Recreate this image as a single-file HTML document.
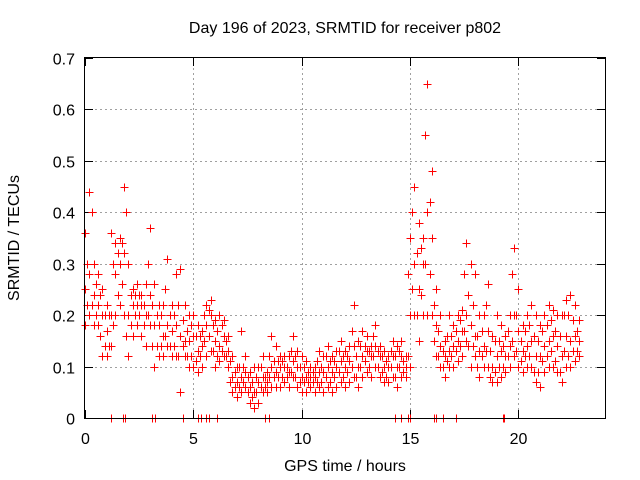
<!DOCTYPE html>
<html><head><meta charset="utf-8"><style>
html,body{margin:0;padding:0;background:#fff}
svg{display:block;font-family:"Liberation Sans",sans-serif}
</style></head><body>
<svg id="chart" width="640" height="480" viewBox="0 0 640 480" xmlns="http://www.w3.org/2000/svg">
<rect width="640" height="480" fill="#fff"/>
<text x="345" y="33" font-size="16" text-anchor="middle">Day 196 of 2023, SRMTID for receiver p802</text>
<text x="345" y="471" font-size="16" text-anchor="middle">GPS time / hours</text>
<text x="19" y="238" font-size="16" text-anchor="middle" transform="rotate(-90 19 238)">SRMTID / TECUs</text>
<g id="grid"></g><g id="ticks"></g><g id="marks"></g>
<rect x="84.5" y="57.5" width="521" height="361" fill="none" stroke="#000"/>
</svg>
<script>
const xTicks=[0,5,10,15,20];
const yTicks=[0,0.1,0.2,0.3,0.4,0.5,0.6,0.7];
const yTickLabels=["0","0.1","0.2","0.3","0.4","0.5","0.6","0.7"];
const times=[0,0.2,0.4,0.6,0.8,1,1.2,1.4,1.6,1.8,2,2.2,2.4,2.6,2.8,3,3.2,3.4,3.6,3.8,4,4.2,4.4,4.6,4.8,5,5.2,5.4,5.6,5.8,6,6.2,6.4,6.6,6.8,7,7.2,7.4,7.6,7.8,8,8.2,8.4,8.6,8.8,9,9.2,9.4,9.6,9.8,10,10.2,10.4,10.6,10.8,11,11.2,11.4,11.6,11.8,12,12.2,12.4,12.6,12.8,13,13.2,13.4,13.6,13.8,14,14.2,14.4,14.6,14.8,15,15.2,15.4,15.6,15.8,16,16.2,16.4,16.6,16.8,17,17.2,17.4,17.6,17.8,18,18.2,18.4,18.6,18.8,19,19.2,19.4,19.6,19.8,20,20.2,20.4,20.6,20.8,21,21.2,21.4,21.6,21.8,22,22.2,22.4,22.6,22.8];
const lowVals=[0.18,0.2,0.18,0.18,0.12,0.12,0.14,0.2,0.22,0.2,0.12,0.16,0.18,0.16,0.14,0.18,0.1,0.12,0.12,0.14,0.12,0.12,0.05,0.12,0.1,0.1,0.09,0.1,0.12,0.13,0.1,0.11,0.12,0.1,0.05,0.04,0.05,0.06,0.03,0.02,0.03,0.05,0.05,0.06,0.06,0.06,0.07,0.06,0.08,0.06,0.05,0.05,0.06,0.05,0.06,0.05,0.06,0.05,0.06,0.07,0.06,0.07,0.08,0.06,0.08,0.09,0.08,0.1,0.08,0.07,0.07,0.08,0.06,0.08,0.08,0.1,0.2,0.15,0.2,0.2,0.2,0.12,0.1,0.08,0.1,0.1,0.11,0.12,0.15,0.1,0.12,0.08,0.1,0.1,0.07,0.07,0.08,0.09,0.1,0.12,0.1,0.09,0.1,0.1,0.07,0.06,0.09,0.1,0.1,0.09,0.07,0.1,0.1,0.11,0.12];
const midVals=[0.25,0.28,0.24,0.22,0.2,0.17,0.2,0.28,0.3,0.32,0.2,0.22,0.22,0.22,0.2,0.24,0.18,0.18,0.16,0.18,0.17,0.18,0.16,0.15,0.15,0.16,0.13,0.14,0.18,0.2,0.15,0.14,0.16,0.13,0.08,0.07,0.08,0.09,0.06,0.05,0.07,0.08,0.07,0.1,0.09,0.1,0.1,0.09,0.11,0.1,0.08,0.08,0.08,0.08,0.09,0.09,0.1,0.09,0.1,0.11,0.1,0.11,0.14,0.1,0.12,0.13,0.12,0.14,0.12,0.1,0.1,0.12,0.1,0.12,0.1,0.2,0.3,0.25,0.3,0.4,0.35,0.18,0.14,0.12,0.13,0.14,0.15,0.17,0.2,0.18,0.16,0.13,0.14,0.17,0.1,0.12,0.13,0.12,0.14,0.2,0.17,0.13,0.14,0.15,0.12,0.12,0.14,0.15,0.16,0.14,0.12,0.16,0.15,0.16,0.15];
const highVals=[0.36,0.44,0.3,0.28,0.25,0.22,0.36,0.34,0.35,0.45,0.3,0.25,0.26,0.24,0.26,0.37,0.26,0.22,0.22,0.31,0.22,0.28,0.29,0.22,0.2,0.2,0.18,0.17,0.22,0.23,0.19,0.2,0.19,0.16,0.12,0.1,0.17,0.12,0.09,0.1,0.1,0.12,0.09,0.16,0.14,0.12,0.12,0.12,0.16,0.13,0.12,0.11,0.1,0.1,0.13,0.12,0.14,0.12,0.13,0.15,0.13,0.14,0.22,0.15,0.17,0.16,0.14,0.18,0.14,0.13,0.12,0.15,0.14,0.15,0.12,0.35,0.45,0.38,0.35,0.65,0.48,0.25,0.2,0.15,0.2,0.18,0.2,0.21,0.34,0.3,0.28,0.2,0.2,0.26,0.16,0.2,0.18,0.16,0.2,0.33,0.25,0.18,0.2,0.22,0.2,0.18,0.2,0.22,0.21,0.2,0.2,0.23,0.24,0.22,0.19];
const halfTimes=[0.1,0.3,0.5,0.7,0.9,1.1,1.3,1.5,1.7,1.9,2.1,2.3,2.5,2.7,2.9,3.1,3.3,3.5,3.7,3.9,4.1,4.3,4.5,4.7,4.9,5.1,5.3,5.5,5.7,5.9,6.1,6.3,6.5,6.7,6.9,7.1,7.3,7.5,7.7,7.9,8.1,8.3,8.5,8.7,8.9,9.1,9.3,9.5,9.7,9.9,10.1,10.3,10.5,10.7,10.9,11.1,11.3,11.5,11.7,11.9,12.1,12.3,12.5,12.7,12.9,13.1,13.3,13.5,13.7,13.9,14.1,14.3,14.5,14.7,14.9,15.1,15.3,15.5,15.7,15.9,16.1,16.3,16.5,16.7,16.9,17.1,17.3,17.5,17.7,17.9,18.1,18.3,18.5,18.7,18.9,19.1,19.3,19.5,19.7,19.9,20.1,20.3,20.5,20.7,20.9,21.1,21.3,21.5,21.7,21.9,22.1,22.3,22.5,22.7];
const halfLowVals=[0.22,0.22,0.2,0.16,0.14,0.14,0.18,0.24,0.26,0.16,0.18,0.2,0.2,0.18,0.2,0.14,0.14,0.14,0.16,0.14,0.14,0.12,0.14,0.12,0.12,0.11,0.12,0.15,0.16,0.13,0.12,0.13,0.12,0.07,0.06,0.06,0.07,0.05,0.04,0.05,0.06,0.06,0.08,0.08,0.08,0.08,0.08,0.09,0.08,0.07,0.07,0.07,0.07,0.07,0.07,0.08,0.07,0.08,0.09,0.08,0.09,0.1,0.08,0.1,0.11,0.1,0.12,0.1,0.09,0.08,0.1,0.08,0.1,0.09,0.12,0.25,0.2,0.24,0.3,0.28,0.15,0.12,0.1,0.11,0.12,0.13,0.14,0.17,0.14,0.14,0.1,0.12,0.13,0.08,0.09,0.1,0.1,0.12,0.15,0.13,0.11,0.12,0.12,0.09,0.09,0.11,0.12,0.13,0.11,0.09,0.13,0.12,0.13,0.13];
const halfHighVals=[0.3,0.4,0.26,0.24,0.2,0.2,0.3,0.32,0.34,0.4,0.24,0.24,0.24,0.22,0.3,0.22,0.2,0.2,0.25,0.2,0.2,0.22,0.19,0.17,0.18,0.16,0.16,0.2,0.21,0.18,0.17,0.18,0.15,0.11,0.09,0.1,0.1,0.08,0.07,0.08,0.1,0.08,0.12,0.11,0.11,0.11,0.1,0.13,0.12,0.1,0.1,0.09,0.09,0.11,0.1,0.12,0.11,0.11,0.13,0.12,0.12,0.17,0.12,0.14,0.14,0.13,0.16,0.13,0.12,0.11,0.13,0.12,0.13,0.11,0.28,0.4,0.32,0.33,0.55,0.42,0.22,0.17,0.13,0.16,0.16,0.17,0.19,0.28,0.24,0.22,0.16,0.17,0.22,0.13,0.15,0.15,0.14,0.17,0.28,0.2,0.15,0.17,0.18,0.16,0.15,0.17,0.18,0.19,0.17,0.16,0.2,0.2,0.19,0.17];
const zeroTimes=[1.2,1.75,1.85,3.1,3.25,4.5,5.2,5.35,5.6,5.7,6.1,8.3,8.5,14.3,14.6,14.9,15.0,16.1,16.2,16.5,17.1,19.3,19.35];
const zeroVals=[0,0,0,0,0,0,0,0,0,0,0,0,0,0,0,0,0,0,0,0,0,0,0];

const X0=85,X1=605,Y0=418,Y1=58;
const sx=v=>X0+v/24*(X1-X0);
const sy=v=>Y0-v/0.7*(Y0-Y1);
const NS="http://www.w3.org/2000/svg";
function mk(tag,attrs,parent){const e=document.createElementNS(NS,tag);for(const k in attrs)e.setAttribute(k,attrs[k]);parent.appendChild(e);return e;}
const grid=document.getElementById('grid'),ticks=document.getElementById('ticks'),marks=document.getElementById('marks');
xTicks.forEach(t=>{const x=Math.round(sx(t))+0.5;
 if(t>0){const g=mk('line',{x1:x,x2:x,y1:Y1,y2:Y0,stroke:'#a0a0a0','stroke-dasharray':'2,3'},grid);
 
 }
 mk('line',{x1:x,x2:x,y1:Y0,y2:Y0-8,stroke:'#000'},ticks);
 mk('line',{x1:x,x2:x,y1:Y1,y2:Y1+8,stroke:'#000'},ticks);
 const l=mk('text',{x:x,y:444,'font-size':16,'text-anchor':'middle'},ticks);l.textContent=String(t);
 
 
});
yTicks.forEach((t,i)=>{const y=Math.round(sy(t))+0.5;
 if(t>0&&t<0.7){const g=mk('line',{x1:X0,x2:X1,y1:y,y2:y,stroke:'#a0a0a0','stroke-dasharray':'2,3'},grid);
 
 }
 mk('line',{x1:X0,x2:X0+8,y1:y,y2:y,stroke:'#000'},ticks);
 mk('line',{x1:X1,x2:X1-8,y1:y,y2:y,stroke:'#000'},ticks);
 const l=mk('text',{x:75,y:y+6,'font-size':16,'text-anchor':'end'},ticks);l.textContent=yTickLabels[i];
 
 
});
function plus(t,v,color){const x=Math.round(sx(t))+0.5,y=Math.round(sy(v))+0.5;
 const p=mk('path',{d:`M${x-4} ${y}h8M${x} ${y-4}v8`,stroke:color,'stroke-width':1,fill:'none'},marks);
 
 
}
[lowVals,midVals,highVals].forEach(arr=>times.forEach((t,i)=>plus(t,arr[i],'#ff0000')));
[halfLowVals,halfHighVals].forEach(arr=>halfTimes.forEach((t,i)=>plus(t,arr[i],'#ff0000')));
zeroTimes.forEach((t,i)=>plus(t,zeroVals[i],'#ff0000'));
</script>
</body></html>
